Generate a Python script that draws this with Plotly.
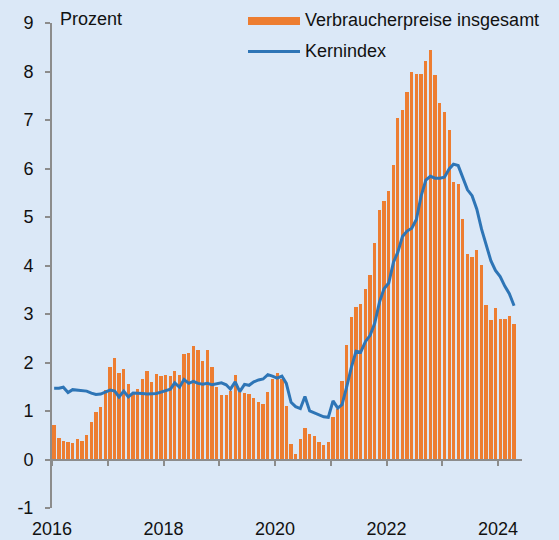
import plotly.graph_objects as go
import pandas as pd

# Consumer prices overall (bars) and core index (line), % y/y, monthly Jan 2016 - Apr 2024
infl = [0.71, 0.44, 0.38, 0.36, 0.34, 0.43, 0.39, 0.51, 0.77, 0.97, 1.09, 1.44,
        1.90, 2.10, 1.78, 1.87, 1.56, 1.37, 1.46, 1.67, 1.82, 1.60, 1.77, 1.72,
        1.74, 1.72, 1.83, 1.74, 2.17, 2.20, 2.35, 2.26, 2.04, 2.25, 1.90, 1.50,
        1.32, 1.34, 1.41, 1.74, 1.39, 1.38, 1.36, 1.26, 1.18, 1.15, 1.40, 1.66,
        1.79, 1.66, 1.10, 0.33, 0.12, 0.42, 0.65, 0.53, 0.49, 0.37, 0.29, 0.37,
        0.88, 1.05, 1.62, 2.36, 2.94, 3.15, 3.21, 3.52, 3.80, 4.46, 5.14, 5.33,
        5.53, 6.08, 7.04, 7.20, 7.57, 7.99, 7.94, 7.95, 8.22, 8.44, 7.93, 7.36,
        7.16, 6.80, 5.73, 5.69, 4.96, 4.23, 4.18, 4.33, 4.01, 3.19, 2.87, 3.13,
        2.89, 2.90, 2.96, 2.80]

core = [1.47, 1.47, 1.49, 1.38, 1.44, 1.43, 1.42, 1.41, 1.37, 1.34, 1.35, 1.39,
        1.43, 1.41, 1.29, 1.41, 1.29, 1.37, 1.37, 1.36, 1.35, 1.36, 1.36, 1.39,
        1.42, 1.45, 1.58, 1.49, 1.65, 1.57, 1.61, 1.57, 1.55, 1.57, 1.54, 1.56,
        1.58, 1.54, 1.45, 1.60, 1.40, 1.55, 1.53, 1.60, 1.64, 1.66, 1.75, 1.72,
        1.68, 1.72, 1.57, 1.18, 1.09, 1.05, 1.30, 1.00, 0.96, 0.91, 0.88, 0.87,
        1.21, 1.06, 1.13, 1.50, 1.90, 2.23, 2.21, 2.43, 2.56, 2.81, 3.24, 3.52,
        3.64, 4.07, 4.27, 4.60, 4.71, 4.77, 4.95, 5.43, 5.76, 5.84, 5.80, 5.80,
        5.82, 5.99, 6.09, 6.06, 5.82, 5.56, 5.44, 5.16, 4.75, 4.43, 4.10, 3.90,
        3.77, 3.57, 3.42, 3.17]

start_month = "2016-01-01"
tick_years = list(range(2016, 2025))
label_years = [2016, 2018, 2020, 2022, 2024]
y_ticks = list(range(-1, 10))

series_names = ["Verbraucherpreise insgesamt", "Kernindex"]
unit_label = "Prozent"

months = pd.date_range(start_month, periods=len(infl), freq="MS") + pd.Timedelta(days=14)

BG = "#DBE8F7"
ORANGE = "#ED7D31"
BLUE = "#2E75B6"
GRAY = "#8C8C8C"
TXT = "#111111"
FONT = "Liberation Sans, Arial, sans-serif"

bar_width_ms = 0.71 * 30.44 * 86400000

fig = go.Figure()
fig.add_trace(go.Bar(x=months, y=infl, width=bar_width_ms, marker=dict(color=ORANGE, line=dict(width=0)),
                     name=series_names[0], showlegend=False))
fig.add_trace(go.Scatter(x=months, y=core, mode="lines", line=dict(color=BLUE, width=3),
                         name=series_names[1], showlegend=False))
# helper trace so the zero-crossing axis is rendered
fig.add_trace(go.Scatter(x=[months[0]], y=[0], xaxis="x2", mode="markers",
                         marker=dict(opacity=0), hoverinfo="skip", showlegend=False))

x_range = ["2016-01-01", "2024-06-06"]

fig.update_layout(
    width=559, height=540,
    margin=dict(l=52, r=37, t=23, b=32, autoexpand=False),
    paper_bgcolor=BG, plot_bgcolor=BG,
    font=dict(family=FONT, size=18, color=TXT),
    bargap=0,
    xaxis=dict(type="date", range=x_range, automargin=False,
               tickvals=[f"{y}-01-01" for y in label_years],
               ticktext=[str(y) for y in label_years],
               showline=False, showgrid=False, zeroline=False, ticks="",
               tickfont=dict(size=18, color=TXT), ticklabelstandoff=8),
    xaxis2=dict(type="date", range=x_range, overlaying="x", anchor="free", position=0.1,
                automargin=False,
                tickvals=[f"{y}-01-01" for y in tick_years],
                showticklabels=False, showline=True, linecolor=GRAY, linewidth=2,
                ticks="outside", ticklen=5, tickwidth=2, tickcolor=GRAY,
                showgrid=False, zeroline=False),
    yaxis=dict(range=[-1, 9], tickvals=y_ticks, ticktext=[str(v) for v in y_ticks],
               automargin=False,
               showline=True, linecolor=GRAY, linewidth=2,
               ticks="outside", ticklen=5, tickwidth=2, tickcolor=GRAY,
               showgrid=False, zeroline=False,
               tickfont=dict(size=18, color=TXT), ticklabelstandoff=8),
)

def px_x(p):
    return (p - 52) / 470.0

def px_y(p):
    return (508 - p) / 485.0

# custom legend
fig.add_shape(type="rect", xref="paper", yref="paper",
              x0=px_x(248), x1=px_x(300), y0=px_y(25), y1=px_y(17),
              fillcolor=ORANGE, line=dict(width=0))
fig.add_shape(type="line", xref="paper", yref="paper",
              x0=px_x(248), x1=px_x(300), y0=px_y(51.5), y1=px_y(51.5),
              line=dict(color=BLUE, width=3))
fig.add_annotation(xref="paper", yref="paper", x=px_x(303), y=px_y(20), text=series_names[0],
                   showarrow=False, xanchor="left", yanchor="middle", font=dict(size=18, color=TXT))
fig.add_annotation(xref="paper", yref="paper", x=px_x(303), y=px_y(51), text=series_names[1],
                   showarrow=False, xanchor="left", yanchor="middle", font=dict(size=18, color=TXT))
fig.add_annotation(xref="paper", yref="paper", x=px_x(58), y=px_y(19), text=unit_label,
                   showarrow=False, xanchor="left", yanchor="middle", font=dict(size=18, color=TXT))

fig.write_html("out.html", config={"displayModeBar": False},
               post_script="document.body.style.margin='0';document.body.style.background='%s';" % BG)
